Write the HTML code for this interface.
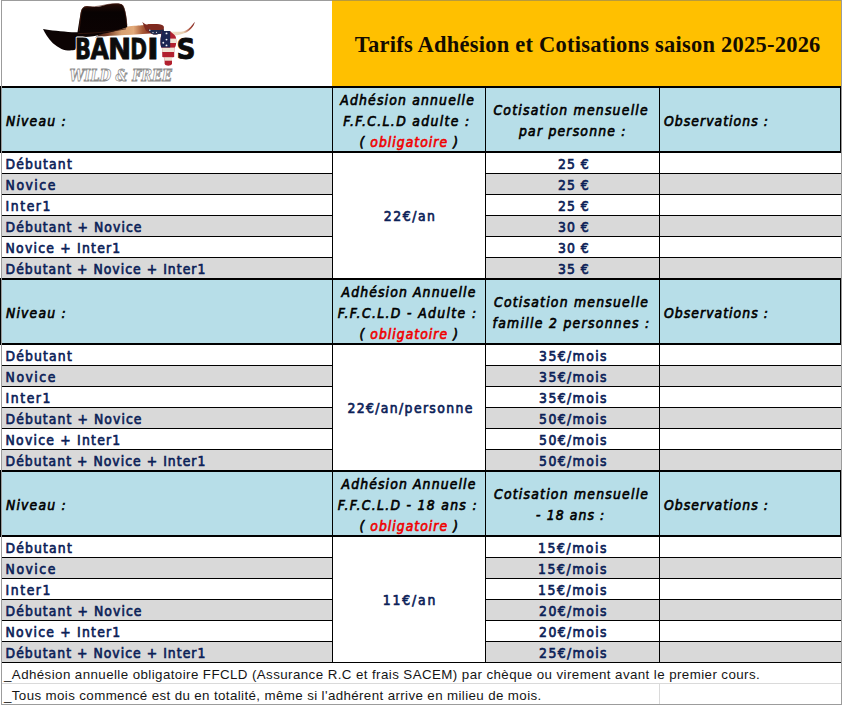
<!DOCTYPE html>
<html><head><meta charset="utf-8"><title>Tarifs Adhésion et Cotisations saison 2025-2026</title>
<style>
html,body{margin:0;padding:0;background:#fff}
body{width:844px;height:705px;position:relative;overflow:hidden}
.r{position:absolute}

.t{position:absolute;white-space:nowrap;line-height:21px;margin:0;padding:0}
.hi{font-family:"DejaVu Sans Condensed","DejaVu Sans",sans-serif;font-stretch:condensed;font-style:italic;font-size:13.8px;color:#000;-webkit-text-stroke:0.62px #000}
.d{font-family:"DejaVu Sans Condensed","DejaVu Sans",sans-serif;font-stretch:condensed;font-size:13.8px;color:#0b2157;-webkit-text-stroke:0.62px #0b2157}
.red{color:#f00000;-webkit-text-stroke:0.62px #f00000}
.f{font-family:"Liberation Sans",Arial,sans-serif;font-size:13.33px;color:#151515}
.ti{font-family:"Liberation Serif",serif;font-weight:bold;font-size:22.5px;line-height:30px;color:#140c00}

#logo{position:absolute;left:0;top:0}
</style></head><body>
<div class="r" style="left:332px;top:1px;width:509px;height:85px;background:#FFC000"></div><div class="r" style="left:1px;top:88px;width:839px;height:63px;background:#B7DEE8"></div><div class="r" style="left:0px;top:86px;width:841px;height:2px;background:#000"></div><div class="r" style="left:0px;top:151px;width:841px;height:2px;background:#000"></div><div class="r" style="left:0px;top:88px;width:1px;height:63px;background:#000"></div><div class="r" style="left:332px;top:88px;width:1px;height:63px;background:#000"></div><div class="r" style="left:485px;top:88px;width:1px;height:63px;background:#000"></div><div class="r" style="left:659px;top:88px;width:1px;height:63px;background:#000"></div><div class="r" style="left:840px;top:88px;width:1px;height:63px;background:#000"></div><div class="r" style="left:2px;top:173px;width:330px;height:1px;background:#000"></div><div class="r" style="left:486px;top:173px;width:355px;height:1px;background:#000"></div><div class="r" style="left:2px;top:174px;width:330px;height:20px;background:#D9D9D9"></div><div class="r" style="left:486px;top:174px;width:173px;height:20px;background:#D9D9D9"></div><div class="r" style="left:660px;top:174px;width:181px;height:20px;background:#D9D9D9"></div><div class="r" style="left:2px;top:194px;width:330px;height:1px;background:#000"></div><div class="r" style="left:486px;top:194px;width:355px;height:1px;background:#000"></div><div class="r" style="left:2px;top:215px;width:330px;height:1px;background:#000"></div><div class="r" style="left:486px;top:215px;width:355px;height:1px;background:#000"></div><div class="r" style="left:2px;top:216px;width:330px;height:20px;background:#D9D9D9"></div><div class="r" style="left:486px;top:216px;width:173px;height:20px;background:#D9D9D9"></div><div class="r" style="left:660px;top:216px;width:181px;height:20px;background:#D9D9D9"></div><div class="r" style="left:2px;top:236px;width:330px;height:1px;background:#000"></div><div class="r" style="left:486px;top:236px;width:355px;height:1px;background:#000"></div><div class="r" style="left:2px;top:257px;width:330px;height:1px;background:#000"></div><div class="r" style="left:486px;top:257px;width:355px;height:1px;background:#000"></div><div class="r" style="left:2px;top:258px;width:330px;height:20px;background:#D9D9D9"></div><div class="r" style="left:486px;top:258px;width:173px;height:20px;background:#D9D9D9"></div><div class="r" style="left:660px;top:258px;width:181px;height:20px;background:#D9D9D9"></div><div class="r" style="left:332px;top:153px;width:1px;height:125px;background:#000"></div><div class="r" style="left:485px;top:153px;width:1px;height:125px;background:#000"></div><div class="r" style="left:659px;top:153px;width:1px;height:125px;background:#000"></div><div class="r" style="left:1px;top:280px;width:839px;height:63px;background:#B7DEE8"></div><div class="r" style="left:0px;top:278px;width:841px;height:2px;background:#000"></div><div class="r" style="left:0px;top:343px;width:841px;height:2px;background:#000"></div><div class="r" style="left:0px;top:280px;width:1px;height:63px;background:#000"></div><div class="r" style="left:332px;top:280px;width:1px;height:63px;background:#000"></div><div class="r" style="left:485px;top:280px;width:1px;height:63px;background:#000"></div><div class="r" style="left:659px;top:280px;width:1px;height:63px;background:#000"></div><div class="r" style="left:840px;top:280px;width:1px;height:63px;background:#000"></div><div class="r" style="left:2px;top:365px;width:330px;height:1px;background:#000"></div><div class="r" style="left:486px;top:365px;width:355px;height:1px;background:#000"></div><div class="r" style="left:2px;top:366px;width:330px;height:20px;background:#D9D9D9"></div><div class="r" style="left:486px;top:366px;width:173px;height:20px;background:#D9D9D9"></div><div class="r" style="left:660px;top:366px;width:181px;height:20px;background:#D9D9D9"></div><div class="r" style="left:2px;top:386px;width:330px;height:1px;background:#000"></div><div class="r" style="left:486px;top:386px;width:355px;height:1px;background:#000"></div><div class="r" style="left:2px;top:407px;width:330px;height:1px;background:#000"></div><div class="r" style="left:486px;top:407px;width:355px;height:1px;background:#000"></div><div class="r" style="left:2px;top:408px;width:330px;height:20px;background:#D9D9D9"></div><div class="r" style="left:486px;top:408px;width:173px;height:20px;background:#D9D9D9"></div><div class="r" style="left:660px;top:408px;width:181px;height:20px;background:#D9D9D9"></div><div class="r" style="left:2px;top:428px;width:330px;height:1px;background:#000"></div><div class="r" style="left:486px;top:428px;width:355px;height:1px;background:#000"></div><div class="r" style="left:2px;top:449px;width:330px;height:1px;background:#000"></div><div class="r" style="left:486px;top:449px;width:355px;height:1px;background:#000"></div><div class="r" style="left:2px;top:450px;width:330px;height:20px;background:#D9D9D9"></div><div class="r" style="left:486px;top:450px;width:173px;height:20px;background:#D9D9D9"></div><div class="r" style="left:660px;top:450px;width:181px;height:20px;background:#D9D9D9"></div><div class="r" style="left:332px;top:345px;width:1px;height:125px;background:#000"></div><div class="r" style="left:485px;top:345px;width:1px;height:125px;background:#000"></div><div class="r" style="left:659px;top:345px;width:1px;height:125px;background:#000"></div><div class="r" style="left:1px;top:472px;width:839px;height:63px;background:#B7DEE8"></div><div class="r" style="left:0px;top:470px;width:841px;height:2px;background:#000"></div><div class="r" style="left:0px;top:535px;width:841px;height:2px;background:#000"></div><div class="r" style="left:0px;top:472px;width:1px;height:63px;background:#000"></div><div class="r" style="left:332px;top:472px;width:1px;height:63px;background:#000"></div><div class="r" style="left:485px;top:472px;width:1px;height:63px;background:#000"></div><div class="r" style="left:659px;top:472px;width:1px;height:63px;background:#000"></div><div class="r" style="left:840px;top:472px;width:1px;height:63px;background:#000"></div><div class="r" style="left:2px;top:557px;width:330px;height:1px;background:#000"></div><div class="r" style="left:486px;top:557px;width:355px;height:1px;background:#000"></div><div class="r" style="left:2px;top:558px;width:330px;height:20px;background:#D9D9D9"></div><div class="r" style="left:486px;top:558px;width:173px;height:20px;background:#D9D9D9"></div><div class="r" style="left:660px;top:558px;width:181px;height:20px;background:#D9D9D9"></div><div class="r" style="left:2px;top:578px;width:330px;height:1px;background:#000"></div><div class="r" style="left:486px;top:578px;width:355px;height:1px;background:#000"></div><div class="r" style="left:2px;top:599px;width:330px;height:1px;background:#000"></div><div class="r" style="left:486px;top:599px;width:355px;height:1px;background:#000"></div><div class="r" style="left:2px;top:600px;width:330px;height:20px;background:#D9D9D9"></div><div class="r" style="left:486px;top:600px;width:173px;height:20px;background:#D9D9D9"></div><div class="r" style="left:660px;top:600px;width:181px;height:20px;background:#D9D9D9"></div><div class="r" style="left:2px;top:620px;width:330px;height:1px;background:#000"></div><div class="r" style="left:486px;top:620px;width:355px;height:1px;background:#000"></div><div class="r" style="left:2px;top:641px;width:330px;height:1px;background:#000"></div><div class="r" style="left:486px;top:641px;width:355px;height:1px;background:#000"></div><div class="r" style="left:2px;top:642px;width:330px;height:20px;background:#D9D9D9"></div><div class="r" style="left:486px;top:642px;width:173px;height:20px;background:#D9D9D9"></div><div class="r" style="left:660px;top:642px;width:181px;height:20px;background:#D9D9D9"></div><div class="r" style="left:332px;top:537px;width:1px;height:125px;background:#000"></div><div class="r" style="left:485px;top:537px;width:1px;height:125px;background:#000"></div><div class="r" style="left:659px;top:537px;width:1px;height:125px;background:#000"></div><div class="r" style="left:2px;top:662px;width:839px;height:1px;background:#000"></div><div class="r" style="left:2px;top:683px;width:839px;height:1px;background:#dadada"></div><div class="r" style="left:659px;top:684px;width:1px;height:20px;background:#dadada"></div><div class="r" style="left:1px;top:0px;width:331px;height:1px;background:#9c9c9c"></div><div class="r" style="left:332px;top:0px;width:510px;height:1px;background:#b89a3c"></div><div class="r" style="left:1px;top:0px;width:1px;height:705px;background:#9c9c9c"></div><div class="r" style="left:841px;top:0px;width:1px;height:705px;background:#9c9c9c"></div><div class="r" style="left:1px;top:704px;width:841px;height:1px;background:#9c9c9c"></div><div class="r" style="left:0px;top:86px;width:1px;height:67px;background:#000"></div><div class="r" style="left:0px;top:278px;width:1px;height:67px;background:#000"></div><div class="r" style="left:0px;top:470px;width:1px;height:67px;background:#000"></div>
<svg id="logo" width="332" height="86" viewBox="0 0 332 86">
  <defs>
    <linearGradient id="brimR" x1="95" y1="0" x2="165" y2="0" gradientUnits="userSpaceOnUse">
      <stop offset="0" stop-color="#2a1008"/>
      <stop offset="0.18" stop-color="#7a4028"/>
      <stop offset="0.38" stop-color="#d8a070"/>
      <stop offset="0.55" stop-color="#e2aa7a"/>
      <stop offset="0.68" stop-color="#a85a38"/>
      <stop offset="0.8" stop-color="#842a1c"/>
      <stop offset="1" stop-color="#7a2218"/>
    </linearGradient>
    <linearGradient id="hornR" x1="170" y1="0" x2="195" y2="0" gradientUnits="userSpaceOnUse">
      <stop offset="0" stop-color="#f2e6d0"/>
      <stop offset="0.55" stop-color="#e8cfb0"/>
      <stop offset="0.8" stop-color="#a84a38"/>
      <stop offset="1" stop-color="#7a1e1a"/>
    </linearGradient>
    <linearGradient id="crown" x1="0" y1="4" x2="0" y2="36" gradientUnits="userSpaceOnUse">
      <stop offset="0" stop-color="#240a05"/>
      <stop offset="0.25" stop-color="#080202"/>
      <stop offset="1" stop-color="#0c0303"/>
    </linearGradient>
  </defs>
  <!-- right brim (behind crown) -->
  <path d="M95,37.5 L100,34 C110,31 120,28 127,26.7 C133,25.8 140,25.4 143,25.3 C146,24.6 148,24 150,24 L157,24 C160,24.3 162,25 163.5,26 L163,30.5 C158,32.5 154,33.3 150,33.5 L139,34.2 C130,34.8 120,35.3 110,35.8 C104,36.3 99,37 95,37.5 Z" fill="url(#brimR)"/>
  <!-- crown + left brim -->
  <path d="M43,29 C50,30.2 62,31.6 72,32.2 L77.5,32.3 C78.5,26 79.6,19 80.6,13 C81.2,9.8 82.3,7.6 84.5,6.8 C87,6 90,6.3 93,6.9 C96,7.3 99,6.9 102,6 C106,4.8 111,3.6 116,3.5 C119,3.4 121.5,4 123,5.5 C125,8.5 126,14 126.7,20 L127.3,27 C122,29.5 112,31.8 104,33.6 L97,35.5 C92,36.5 86,37 80,37.3 C78,42 76.5,46 75.5,49.6 C72,51 66,50.8 61.5,49 C55,46 50,41 46.8,35.8 C45.2,33.4 44,31 43,29 Z" fill="url(#crown)"/>
  <!-- crown edge highlight -->
  <path d="M79.2,31 C80,22 80.8,13 82,9.5 C83,7.5 85,6.8 88,6.6" fill="none" stroke="#5a2414" stroke-width="0.9" opacity="0.7"/>
  <path d="M84,6.9 C92,7 97,6.8 104,5.2 C110,3.8 117,3.2 122,4.6 C124.5,7 126,15 126.8,25" fill="none" stroke="#4a1a10" stroke-width="0.8" opacity="0.8"/>
  <!-- hat band line -->
  <path d="M78,33.6 C92,33.4 110,32 126,28.8" fill="none" stroke="#3a1a10" stroke-width="0.8"/>
  <!-- left horn (flag) -->
  <path d="M142.3,21.8 C144,23.5 145.5,24.6 147,25 C152,25 157,24.6 161.4,24.8 L163.8,26.7 L163.8,33 C160,34 156,34.6 153.6,34.5 C150,33.5 147.5,32 145.8,30.6 C144.5,28 143.6,25 142.3,21.8 Z" fill="#7e2a20"/>
  <path d="M148,29.5 C151,30 155,30.2 160,30 L163.8,29.5 L163.8,33 C160,34 156,34.6 153.6,34.5 C151,33.8 149.3,31.5 148,29.5 Z" fill="#1e2a4e"/>
  <circle cx="149.8" cy="30.3" r="0.7" fill="#f4f0ea"/>
  <circle cx="153" cy="32.6" r="0.7" fill="#f4f0ea"/>
  <circle cx="156.5" cy="32.3" r="0.6" fill="#f4f0ea"/>
  <!-- right horn -->
  <path d="M169.5,31.4 C174,31.6 178,31.9 181,31.8 C185,31.2 188,29.6 190.5,27 C192.2,25.2 193.5,23.4 194.8,21.8 C194.3,24.5 193,26.8 191.2,28.5 C188.8,31 186.5,32.6 184.8,33 C181,34.6 177.5,35.3 174.7,35.4 L169.5,35.4 Z" fill="url(#hornR)"/>
  <!-- bull head -->
  <g>
    <clipPath id="hc"><path d="M161.5,31 L170,31 C172,33 174.5,34.5 175.6,36.5 C176.4,38.5 176.4,42.5 175.9,45 C175.5,46.6 175,47.6 174.3,48.4 L174.2,57 L172,57.4 L172,63.8 C171.4,65.2 169.8,65.7 168.2,65.7 C166.6,65.7 165.2,65.2 164.6,63.8 L164.6,57.4 L162.3,57 L162.1,48.6 C161.2,47.6 160.6,45.6 160.4,43 C160.3,40 160.6,37.5 161.2,35.4 Z"/></clipPath>
    <g clip-path="url(#hc)">
      <rect x="159" y="30" width="19" height="37" fill="#b2202e"/>
      <rect x="159" y="38.6" width="19" height="4.4" fill="#efe4d4"/>
      <rect x="159" y="47.6" width="19" height="4.4" fill="#efe4d4"/>
      <rect x="159" y="57.2" width="19" height="3.5" fill="#efe4d4"/>
      <path d="M159,30 L170.2,30 L170.2,47.6 L159,47.6 Z" fill="#1c2552"/>
    </g>
    <circle cx="166.5" cy="33.4" r="0.95" fill="#eef0f4"/>
    <circle cx="166.5" cy="39.6" r="0.95" fill="#eef0f4"/>
    <circle cx="163.3" cy="42.8" r="0.95" fill="#eef0f4"/>
    <circle cx="166.5" cy="45.4" r="0.95" fill="#eef0f4"/>
  </g>
  <!-- letters -->
  <g font-family="DejaVu Sans, sans-serif" font-weight="bold" font-size="28">
    <text x="74.9" y="59" textLength="16.0" lengthAdjust="spacingAndGlyphs" fill="#fff" stroke="#fff" stroke-width="3" stroke-linejoin="round">B</text>
    <text x="90.6" y="59" textLength="18.4" lengthAdjust="spacingAndGlyphs" fill="#fff" stroke="#fff" stroke-width="3" stroke-linejoin="round">A</text>
    <text x="107.9" y="59" textLength="23.2" lengthAdjust="spacingAndGlyphs" fill="#fff" stroke="#fff" stroke-width="3" stroke-linejoin="round">N</text>
    <text x="130.2" y="59" textLength="16.8" lengthAdjust="spacingAndGlyphs" fill="#fff" stroke="#fff" stroke-width="3" stroke-linejoin="round">D</text>
    <text x="146.9" y="59" textLength="11.8" lengthAdjust="spacingAndGlyphs" fill="#fff" stroke="#fff" stroke-width="3" stroke-linejoin="round">I</text>
    <text x="74.9" y="59" textLength="16.0" lengthAdjust="spacingAndGlyphs" fill="#0c0c0c" stroke="#0c0c0c" stroke-width="0.8">B</text>
    <text x="90.6" y="59" textLength="18.4" lengthAdjust="spacingAndGlyphs" fill="#0c0c0c" stroke="#0c0c0c" stroke-width="0.8">A</text>
    <text x="107.9" y="59" textLength="23.2" lengthAdjust="spacingAndGlyphs" fill="#0c0c0c" stroke="#0c0c0c" stroke-width="0.8">N</text>
    <text x="130.2" y="59" textLength="16.8" lengthAdjust="spacingAndGlyphs" fill="#0c0c0c" stroke="#0c0c0c" stroke-width="0.8">D</text>
    <text x="146.9" y="59" textLength="11.8" lengthAdjust="spacingAndGlyphs" fill="#0c0c0c" stroke="#0c0c0c" stroke-width="0.8">I</text>
    <text x="176.6" y="59.3" textLength="19" lengthAdjust="spacingAndGlyphs" fill="#0c0c0c" stroke="#0c0c0c" stroke-width="0.8">S</text>
  </g>
  <text x="69.6" y="81.3" font-family="DejaVu Serif, serif" font-weight="bold" font-style="italic" font-size="17" textLength="102.5" lengthAdjust="spacingAndGlyphs" fill="#fff" stroke="#8c8c8c" stroke-width="0.85">WILD &amp; FREE</text>
</svg>

<div class="t hi" style="left:5.90px;top:111.00px;letter-spacing:1.214px">Niveau :</div>
<div class="t hi" style="left:664.00px;top:111.00px;letter-spacing:1.054px">Observations :</div>
<div class="t hi" style="left:340.30px;top:90.00px;letter-spacing:1.188px">Adhésion annuelle</div>
<div class="t hi" style="left:343.30px;top:111.00px;letter-spacing:1.347px">F.F.C.L.D adulte :</div>
<div class="t hi" style="left:359.40px;top:132.00px;letter-spacing:1.036px">( <span class="red">obligatoire</span> )</div>
<div class="t hi" style="left:493.40px;top:100.00px;letter-spacing:1.253px">Cotisation mensuelle</div>
<div class="t hi" style="left:519.00px;top:121.00px;letter-spacing:1.215px">par personne :</div>
<div class="t d" style="left:5.60px;top:154.00px;letter-spacing:1.143px">Débutant</div>
<div class="t d" style="left:558.00px;top:154.00px;letter-spacing:1.033px">25 €</div>
<div class="t d" style="left:5.60px;top:175.00px;letter-spacing:1.520px">Novice</div>
<div class="t d" style="left:558.00px;top:175.00px;letter-spacing:1.033px">25 €</div>
<div class="t d" style="left:5.60px;top:196.00px;letter-spacing:1.560px">Inter1</div>
<div class="t d" style="left:558.00px;top:196.00px;letter-spacing:1.033px">25 €</div>
<div class="t d" style="left:5.60px;top:217.00px;letter-spacing:1.081px">Débutant + Novice</div>
<div class="t d" style="left:558.00px;top:217.00px;letter-spacing:1.033px">30 €</div>
<div class="t d" style="left:5.60px;top:238.00px;letter-spacing:1.229px">Novice + Inter1</div>
<div class="t d" style="left:558.00px;top:238.00px;letter-spacing:1.033px">30 €</div>
<div class="t d" style="left:5.60px;top:259.00px;letter-spacing:1.036px">Débutant + Novice + Inter1</div>
<div class="t d" style="left:558.00px;top:259.00px;letter-spacing:1.033px">35 €</div>
<div class="t d" style="left:383.80px;top:205.50px;letter-spacing:1.560px">22€/an</div>
<div class="t hi" style="left:5.90px;top:303.00px;letter-spacing:1.214px">Niveau :</div>
<div class="t hi" style="left:664.00px;top:303.00px;letter-spacing:1.054px">Observations :</div>
<div class="t hi" style="left:341.50px;top:282.00px;letter-spacing:1.144px">Adhésion Annuelle</div>
<div class="t hi" style="left:337.80px;top:303.00px;letter-spacing:1.368px">F.F.C.L.D - Adulte :</div>
<div class="t hi" style="left:359.40px;top:324.00px;letter-spacing:1.036px">( <span class="red">obligatoire</span> )</div>
<div class="t hi" style="left:494.00px;top:292.00px;letter-spacing:1.237px">Cotisation mensuelle</div>
<div class="t hi" style="left:492.50px;top:313.00px;letter-spacing:1.310px">famille 2 personnes :</div>
<div class="t d" style="left:5.60px;top:346.00px;letter-spacing:1.143px">Débutant</div>
<div class="t d" style="left:539.10px;top:346.00px;letter-spacing:1.414px">35€/mois</div>
<div class="t d" style="left:5.60px;top:367.00px;letter-spacing:1.520px">Novice</div>
<div class="t d" style="left:539.10px;top:367.00px;letter-spacing:1.414px">35€/mois</div>
<div class="t d" style="left:5.60px;top:388.00px;letter-spacing:1.560px">Inter1</div>
<div class="t d" style="left:539.10px;top:388.00px;letter-spacing:1.414px">35€/mois</div>
<div class="t d" style="left:5.60px;top:409.00px;letter-spacing:1.081px">Débutant + Novice</div>
<div class="t d" style="left:539.10px;top:409.00px;letter-spacing:1.414px">50€/mois</div>
<div class="t d" style="left:5.60px;top:430.00px;letter-spacing:1.229px">Novice + Inter1</div>
<div class="t d" style="left:539.10px;top:430.00px;letter-spacing:1.414px">50€/mois</div>
<div class="t d" style="left:5.60px;top:451.00px;letter-spacing:1.036px">Débutant + Novice + Inter1</div>
<div class="t d" style="left:539.10px;top:451.00px;letter-spacing:1.414px">50€/mois</div>
<div class="t d" style="left:347.50px;top:397.50px;letter-spacing:1.371px">22€/an/personne</div>
<div class="t hi" style="left:5.90px;top:495.00px;letter-spacing:1.214px">Niveau :</div>
<div class="t hi" style="left:664.00px;top:495.00px;letter-spacing:1.054px">Observations :</div>
<div class="t hi" style="left:341.50px;top:474.00px;letter-spacing:1.144px">Adhésion Annuelle</div>
<div class="t hi" style="left:337.80px;top:495.00px;letter-spacing:1.316px">F.F.C.L.D - 18 ans :</div>
<div class="t hi" style="left:359.40px;top:516.00px;letter-spacing:1.036px">( <span class="red">obligatoire</span> )</div>
<div class="t hi" style="left:494.00px;top:484.00px;letter-spacing:1.237px">Cotisation mensuelle</div>
<div class="t hi" style="left:536.00px;top:505.00px;letter-spacing:1.111px">- 18 ans :</div>
<div class="t d" style="left:5.60px;top:538.00px;letter-spacing:1.143px">Débutant</div>
<div class="t d" style="left:538.10px;top:538.00px;letter-spacing:1.557px">15€/mois</div>
<div class="t d" style="left:5.60px;top:559.00px;letter-spacing:1.520px">Novice</div>
<div class="t d" style="left:538.10px;top:559.00px;letter-spacing:1.557px">15€/mois</div>
<div class="t d" style="left:5.60px;top:580.00px;letter-spacing:1.560px">Inter1</div>
<div class="t d" style="left:538.10px;top:580.00px;letter-spacing:1.557px">15€/mois</div>
<div class="t d" style="left:5.60px;top:601.00px;letter-spacing:1.081px">Débutant + Novice</div>
<div class="t d" style="left:539.10px;top:601.00px;letter-spacing:1.414px">20€/mois</div>
<div class="t d" style="left:5.60px;top:622.00px;letter-spacing:1.229px">Novice + Inter1</div>
<div class="t d" style="left:539.10px;top:622.00px;letter-spacing:1.414px">20€/mois</div>
<div class="t d" style="left:5.60px;top:643.00px;letter-spacing:1.036px">Débutant + Novice + Inter1</div>
<div class="t d" style="left:539.10px;top:643.00px;letter-spacing:1.414px">25€/mois</div>
<div class="t d" style="left:382.70px;top:589.50px;letter-spacing:1.860px">11€/an</div>
<div class="t f" style="left:4.00px;top:664.00px;letter-spacing:0.414px">_Adhésion annuelle obligatoire FFCLD (Assurance R.C et frais SACEM) par chèque ou virement avant le premier cours.</div>
<div class="t f" style="left:4.00px;top:685.00px;letter-spacing:0.382px">_Tous mois commencé est du en totalité, même si l'adhérent arrive en milieu de mois.</div>
<div class="t ti" style="left:354.80px;top:29.60px;letter-spacing:0.233px">Tarifs Adhésion et Cotisations saison 2025-2026</div>
</body></html>
